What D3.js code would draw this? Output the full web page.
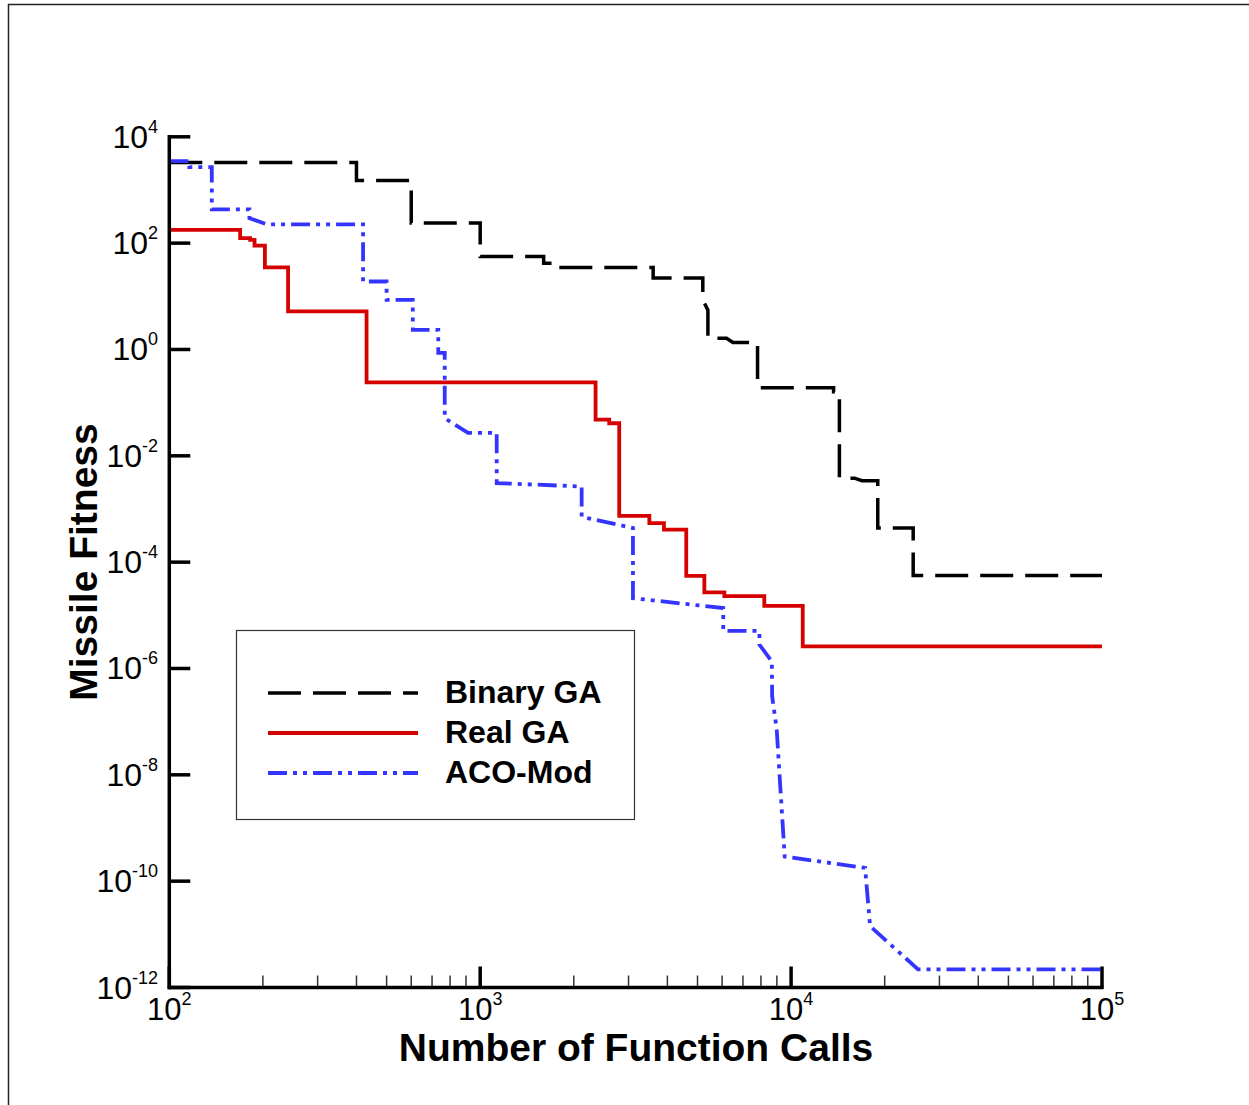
<!DOCTYPE html>
<html>
<head>
<meta charset="utf-8">
<script src="https://cdn.jsdelivr.net/npm/d3@7"></script>
<style>
  body { margin: 0; background: #fff; }
  svg { display: block; }
</style>
</head>
<body>
<div id="myChart"></div>
<script>
// values (function calls, fitness)
var binaryX = [100, 400, 400, 600, 600, 1000, 1000, 1600, 1600, 1770, 1770, 3600, 3600, 5200, 5200, 5400, 5400, 6200, 6500, 7800, 7800, 13700, 13700, 14300, 14300, 16000, 16900, 19000, 19000, 24700, 24700, 100000];
var binaryY = [3300, 3300, 1500, 1500, 240, 240, 56, 56, 42, 42, 35, 35, 22, 22, 8.6, 5.5, 1.63, 1.63, 1.35, 1.35, 0.19, 0.19, 0.16, 0.16, 3.8e-3, 3.8e-3, 3.4e-3, 3.4e-3, 4.4e-4, 4.4e-4, 5.6e-5, 5.6e-5];

var realX = [100, 169, 169, 182, 182, 188, 188, 203, 203, 241, 241, 431, 431, 2350, 2350, 2600, 2600, 2800, 2800, 3500, 3500, 3900, 3900, 4600, 4600, 5260, 5260, 6100, 6100, 8200, 8200, 10900, 10900, 100000];
var realY = [177, 177, 124, 124, 115, 115, 90, 90, 35, 35, 5.2, 5.2, 0.24, 0.24, 0.048, 0.048, 0.041, 0.041, 7.4e-4, 7.4e-4, 5.4e-4, 5.4e-4, 4.1e-4, 4.1e-4, 5.5e-5, 5.5e-5, 2.7e-5, 2.7e-5, 2.3e-5, 2.3e-5, 1.5e-5, 1.5e-5, 2.6e-6, 2.6e-6];

var acoX = [100, 116, 116, 137, 137, 181, 181, 206, 420, 420, 500, 500, 607, 607, 733, 733, 769, 769, 914, 1130, 1130, 2120, 2120, 3100, 3100, 6050, 6050, 7910, 7910, 8670, 8690, 8990, 9200, 9540, 17300, 17950, 25600, 100000];
var acoY = [3500, 3500, 2700, 2700, 430, 430, 294, 226, 226, 19, 19, 8.6, 8.6, 2.34, 2.34, 0.86, 0.86, 0.051, 0.027, 0.027, 3.07e-3, 2.65e-3, 7.1e-4, 4.4e-4, 2.1e-5, 1.37e-5, 5.1e-6, 5.1e-6, 2.8e-6, 1.36e-6, 3.0e-7, 7.1e-8, 8.1e-9, 2.9e-10, 1.78e-10, 1.42e-11, 2.2e-12, 2.2e-12];

var seriesNames = ["Binary GA", "Real GA", "ACO-Mod"];
var xTickExps = [2, 3, 4, 5];
var yTickExps = [4, 2, 0, -2, -4, -6, -8, -10, -12];

var FONT = '"Liberation Sans", Arial, Helvetica, sans-serif';

var width = 1249, height = 1105;
var plot = { left: 169.3, right: 1102, top: 136.8, bottom: 987.5 };

var svg = d3.select("#myChart")
  .append("svg")
  .attr("width", width)
  .attr("height", height);

// outer frame
svg.append("rect")
  .attr("x", 8.5)
  .attr("y", 4.5)
  .attr("width", 1400)
  .attr("height", 1300)
  .attr("fill", "none")
  .attr("stroke", "#222")
  .attr("stroke-width", 1.5);

var x = d3.scaleLog()
  .domain([1e2, 1e5])
  .range([plot.left, plot.right]);

var y = d3.scaleLog()
  .domain([1e-12, 1e4])
  .range([plot.bottom, plot.top]);

var line = d3.line()
  .x(function(d) { return x(d[0]) })
  .y(function(d) { return y(d[1]) });

var series = [
  { name: seriesNames[0], pts: d3.zip(binaryX, binaryY), color: "#000", width: 3.5, dash: "33,12" },
  { name: seriesNames[1], pts: d3.zip(realX, realY), color: "#d50000", width: 3.8, dash: null },
  { name: seriesNames[2], pts: d3.zip(acoX, acoY), color: "#3434ff", width: 3.8, dash: "19,6,4,6,4,6" }
];

svg.append("g")
  .selectAll("path")
  .data(series)
  .enter()
  .append("path")
  .attr("d", function(d) { return line(d.pts) })
  .attr("fill", "none")
  .attr("stroke", function(d) { return d.color })
  .attr("stroke-width", function(d) { return d.width })
  .attr("stroke-dasharray", function(d) { return d.dash })
  .attr("stroke-linejoin", "miter")
  .attr("stroke-linecap", "butt");

// axes
var axis = svg.append("g");

// minor x ticks
var minor = x.ticks().filter(function(v) {
  return Math.abs(Math.log10(v) - Math.round(Math.log10(v))) > 1e-6;
});
axis.selectAll(".minor")
  .data(minor)
  .enter()
  .append("line")
  .attr("class", "minor")
  .attr("x1", function(d) { return x(d) })
  .attr("x2", function(d) { return x(d) })
  .attr("y1", plot.bottom)
  .attr("y2", plot.bottom - 12)
  .attr("stroke", "#333")
  .attr("stroke-width", 1.5);

// major x ticks
axis.selectAll(".xmajor")
  .data(xTickExps)
  .enter()
  .append("line")
  .attr("class", "xmajor")
  .attr("x1", function(d) { return x(Math.pow(10, d)) })
  .attr("x2", function(d) { return x(Math.pow(10, d)) })
  .attr("y1", plot.bottom)
  .attr("y2", plot.bottom - 21)
  .attr("stroke", "#000")
  .attr("stroke-width", 3.5);

// major y ticks
axis.selectAll(".ymajor")
  .data(yTickExps)
  .enter()
  .append("line")
  .attr("class", "ymajor")
  .attr("x1", plot.left)
  .attr("x2", plot.left + 21)
  .attr("y1", function(d) { return y(Math.pow(10, d)) })
  .attr("y2", function(d) { return y(Math.pow(10, d)) })
  .attr("stroke", "#000")
  .attr("stroke-width", 3.5);

axis.append("line")
  .attr("x1", plot.left).attr("x2", plot.left)
  .attr("y1", plot.top - 1.7).attr("y2", plot.bottom + 1.7)
  .attr("stroke", "#000").attr("stroke-width", 3.5);
axis.append("line")
  .attr("x1", plot.left - 1.7).attr("x2", plot.right + 1.7)
  .attr("y1", plot.bottom).attr("y2", plot.bottom)
  .attr("stroke", "#000").attr("stroke-width", 3.5);

// tick labels: 10 with superscript exponent
function powLabel(sel) {
  sel.append("tspan").text("10");
  sel.append("tspan")
    .attr("dy", -15)
    .attr("font-size", 18)
    .text(function(d) { return d });
}

axis.selectAll(".xlab")
  .data(xTickExps)
  .enter()
  .append("text")
  .attr("class", "xlab")
  .attr("x", function(d) { return x(Math.pow(10, d)) })
  .attr("y", plot.bottom + 32)
  .attr("text-anchor", "middle")
  .attr("font-family", FONT)
  .attr("font-size", 31)
  .call(powLabel);

axis.selectAll(".ylab")
  .data(yTickExps)
  .enter()
  .append("text")
  .attr("class", "ylab")
  .attr("x", 158)
  .attr("y", function(d) { return y(Math.pow(10, d)) + 11 })
  .attr("text-anchor", "end")
  .attr("font-family", FONT)
  .attr("font-size", 32)
  .call(powLabel);

// axis titles
svg.append("text")
  .attr("x", 636)
  .attr("y", 1061)
  .attr("text-anchor", "middle")
  .attr("font-family", FONT)
  .attr("font-weight", "bold")
  .attr("font-size", 39)
  .text("Number of Function Calls");

svg.append("text")
  .attr("transform", "translate(97,562) rotate(-90)")
  .attr("text-anchor", "middle")
  .attr("font-family", FONT)
  .attr("font-weight", "bold")
  .attr("font-size", 39)
  .text("Missile Fitness");

// legend
var legend = svg.append("g");
legend.append("rect")
  .attr("x", 236.5)
  .attr("y", 630.5)
  .attr("width", 398)
  .attr("height", 189)
  .attr("fill", "#fff")
  .attr("stroke", "#333")
  .attr("stroke-width", 1.2);

var rows = legend.selectAll(".row")
  .data(series)
  .enter()
  .append("g")
  .attr("class", "row")
  .attr("transform", function(d, i) { return "translate(0," + (693 + i * 40) + ")" });

rows.append("line")
  .attr("x1", 268)
  .attr("x2", 418)
  .attr("stroke", function(d) { return d.color })
  .attr("stroke-width", function(d) { return d.width })
  .attr("stroke-dasharray", function(d) { return d.dash });

rows.append("text")
  .attr("x", 445)
  .attr("y", 10)
  .attr("font-family", FONT)
  .attr("font-weight", "bold")
  .attr("font-size", 32)
  .text(function(d) { return d.name });
</script>
</body>
</html>
